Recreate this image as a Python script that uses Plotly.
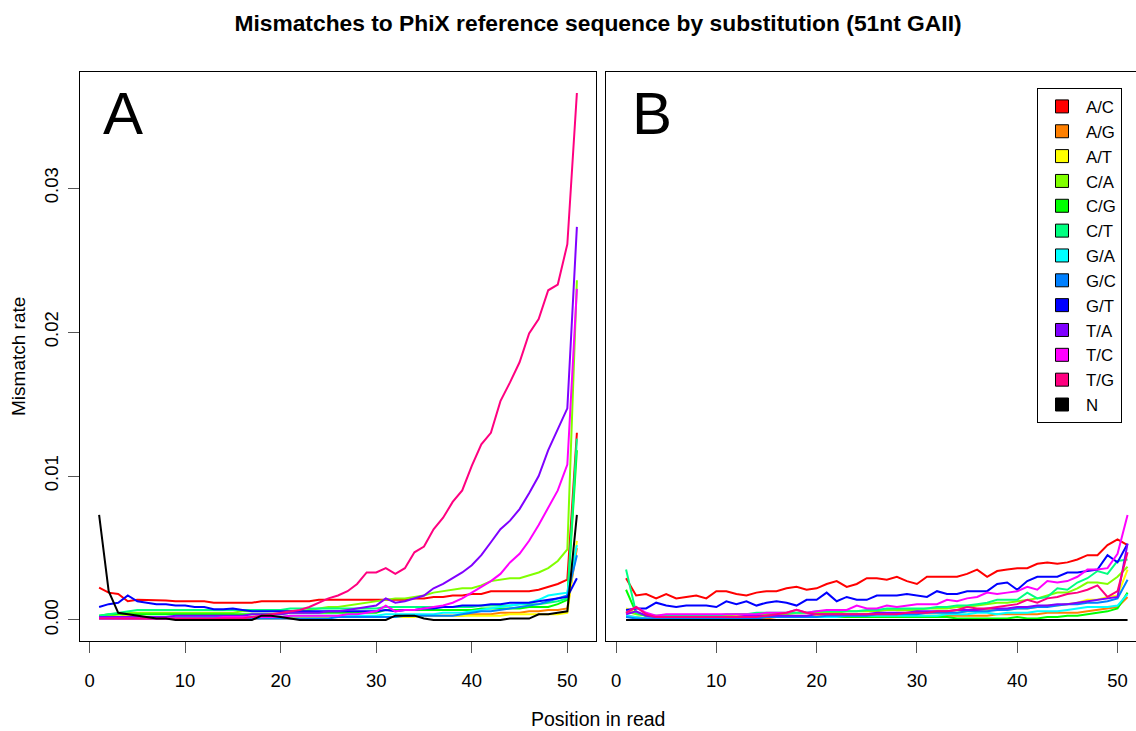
import plotly.graph_objects as go

W, H = 1136, 731

substitutions = ["A/C", "A/G", "A/T", "C/A", "C/G", "C/T", "G/A", "G/C", "G/T", "T/A", "T/C", "T/G", "N"]
colors = ["#FF0000", "#FF8000", "#FFFF00", "#80FF00", "#00FF00", "#00FF80", "#00FFFF",
          "#0080FF", "#0000FF", "#8000FF", "#FF00FF", "#FF0080", "#000000"]
positions = list(range(1, 52))
x_ticks = [0, 10, 20, 30, 40, 50]
y_ticks = [0.0, 0.01, 0.02, 0.03]
y_tick_labels = ["0.00", "0.01", "0.02", "0.03"]

# ---------------- Panel A ----------------
a_AC = [.00225, .0019, .0018, .0013, .0014, .0014, .00135, .00135, .0013, .0013,
        .0013, .0013, .0012, .0012, .0012, .0012, .0012, .0013, .0013, .0013,
        .0013, .0013, .0013, .0014, .0014, .0014, .0014, .0014, .0014, .0014,
        .0014, .0014, .0014, .0015, .0015, .0016, .0016, .0017, .0017, .0018,
        .0018, .0020, .0020, .0020, .0020, .0020, .0021, .0023, .0025, .0028,
        .0130]
a_AG = [.0002, .0002, .0001, .0001, .0001, .0001, .0001, .0001, .0001, .0001,
        .0001, .0001, .0001, .0001, .0001, .0001, .0001, .0001, .0001, .0001,
        .0001, .0001, .0002, .0002, .0002, .0002, .0002, .0002, .0002, .0002,
        .0002, .0002, .0003, .0003, .0003, .0003, .0003, .0003, .0003, .0004,
        .0004, .0004, .0005, .0005, .0005, .0006, .0006, .0007, .0007, .0008,
        .0050]
a_AT = [.0002, .0003, .0004, .0003, .0002, .0002, .0002, .0002, .0002, .0002,
        .0002, .0002, .0002, .0002, .0002, .0002, .0002, .0002, .0002, .0002,
        .0002, .0002, .0002, .0002, .0002, .0002, .0002, .0002, .0002, .0002,
        .0002, .0002, .0002, .0002, .0003, .0003, .0003, .0003, .0003, .0003,
        .0003, .0003, .0003, .0004, .0004, .0004, .0004, .0004, .0004, .0005,
        .0055]
a_CA = [.0002, .0003, .0004, .0005, .0005, .0005, .0005, .0005, .0005, .0005,
        .0005, .0005, .0005, .0005, .0005, .0006, .0006, .0006, .0006, .0006,
        .0006, .0006, .0007, .0008, .0009, .0009, .0010, .0011, .0012, .0013,
        .0014, .0015, .0015, .0016, .0017, .0019, .0020, .0021, .0022, .0022,
        .0024, .0027, .0028, .0029, .0029, .0031, .0033, .0036, .0041, .0049,
        .0236]
a_CG = [.0003, .0004, .0004, .0004, .0004, .0004, .0004, .0004, .0004, .0004,
        .0004, .0004, .0004, .0004, .0004, .0004, .0004, .0004, .0004, .0004,
        .0005, .0005, .0005, .0005, .0005, .0005, .0005, .0005, .0005, .0005,
        .0007, .0007, .0007, .0007, .0007, .0007, .0007, .0007, .0007, .0007,
        .0008, .0008, .0008, .0008, .0008, .0009, .0009, .0009, .0011, .0014,
        .0118]
a_CT = [.0003, .0004, .0005, .0006, .0007, .0007, .0007, .0007, .0007, .0007,
        .0007, .0007, .0007, .0007, .0007, .0007, .0007, .0007, .0007, .0007,
        .0008, .0008, .0008, .0008, .0008, .0008, .0008, .0008, .0008, .0008,
        .0009, .0009, .0009, .0009, .0009, .0009, .0009, .0009, .0009, .0009,
        .0010, .0010, .0010, .0010, .0011, .0011, .0011, .0012, .0013, .0015,
        .0126]
a_GA = [.0001, .0001, .0001, .0002, .0002, .0002, .0002, .0002, .0002, .0002,
        .0002, .0002, .0002, .0002, .0002, .0002, .0002, .0002, .0002, .0002,
        .0003, .0003, .0003, .0003, .0003, .0003, .0003, .0003, .0003, .0003,
        .0004, .0004, .0004, .0004, .0004, .0004, .0005, .0005, .0005, .0006,
        .0007, .0008, .0009, .0010, .0011, .0012, .0014, .0017, .0018, .0019,
        .0052]
a_GC = [.0001, .0001, .0001, .0001, .0001, .0001, .0001, .0001, .0001, .0001,
        .0001, .0001, .0001, .0001, .0001, .0001, .0001, .0001, .0001, .0001,
        .0001, .0001, .0001, .0001, .0001, .0002, .0002, .0002, .0002, .0002,
        .0002, .0002, .0003, .0003, .0003, .0003, .0003, .0003, .0004, .0005,
        .0006, .0006, .0007, .0008, .0009, .0010, .0011, .0013, .0015, .0017,
        .0045]
a_GT = [.0009, .0011, .0012, .0017, .0013, .0012, .0011, .0011, .0010, .0010,
        .0009, .0009, .00075, .00075, .0008, .0007, .0006, .0006, .0006, .0006,
        .0006, .0006, .0006, .0006, .0006, .0006, .0006, .0006, .0006, .0006,
        .0007, .0006, .0007, .0007, .0008, .0008, .0009, .0009, .0010, .0010,
        .0010, .0011, .0011, .0012, .0012, .0012, .0013, .0014, .0015, .0016,
        .0029]
a_TA = [.0002, .0002, .0002, .0002, .0002, .0002, .0002, .0002, .0003, .0003,
        .0003, .0003, .0003, .0003, .0003, .0003, .0004, .0004, .0004, .0004,
        .0005, .0005, .0005, .0005, .0006, .0006, .0007, .0008, .0009, .0010,
        .0015, .0012, .0013, .0015, .0017, .0022, .0025, .0029, .0033, .0038,
        .0045, .0054, .0063, .0069, .0077, .0088, .0100, .0118, .0133, .0147,
        .0273]
a_TC = [.0001, .0001, .0001, .0001, .0001, .0001, .0001, .0001, .0001, .0001,
        .0001, .0001, .0001, .0002, .0002, .0002, .0002, .0002, .0002, .0002,
        .0003, .0003, .0003, .0003, .0003, .0003, .0004, .0004, .0005, .0006,
        .0010, .0006, .0007, .0007, .0008, .0009, .0010, .0012, .0015, .0019,
        .0023, .0027, .0032, .0040, .0046, .0055, .0066, .0078, .0090, .0108,
        .0230]
a_TG = [.0001, .0001, .0001, .0001, .0001, .0001, .0001, .0001, .0001, .0001,
        .0001, .0001, .0001, .0001, .0001, .0001, .0002, .0003, .0004, .0005,
        .0006, .0007, .0009, .0012, .0015, .0017, .0020, .0025, .0033, .0033,
        .0036, .0032, .0036, .0047, .0051, .0063, .0071, .0082, .0090, .0107,
        .0122, .0130, .0152, .0165, .0179, .0199, .0209, .0229, .0233, .0261,
        .0366]
a_N = [.0073, .0020, .0005, .0004, .0003, .0002, .0001, .0001, 0, 0,
       0, 0, 0, 0, 0, 0, 0, .0003, .0003, .0002,
       .0001, 0, 0, 0, 0, 0, 0, 0, 0, 0,
       0, .0003, .0003, .0003, .0001, 0, 0, 0, 0, 0,
       0, 0, 0, .0001, .0001, .0001, .0004, .0004, .0005, .0006,
       .0073]

# ---------------- Panel B ----------------
b_AC = [.0029, .0017, .0018, .0015, .0018, .0015, .0016, .0017, .0015, .0020,
        .0020, .0018, .0017, .0019, .0020, .0020, .0022, .0023, .0021, .0022,
        .0025, .0027, .0023, .0025, .0029, .0029, .0028, .0030, .0027, .0025,
        .0030, .0030, .0030, .0030, .0032, .0035, .0030, .0034, .0035, .0036,
        .0036, .0039, .0040, .0039, .0040, .0042, .0045, .0045, .0052, .0056,
        .0052]
b_AG = [.0003, .0002, .0001, .0001, .0001, .0001, .0001, .0001, .0001, .0001,
        .0001, .0001, .0001, .0001, .0001, .0002, .0002, .0002, .0002, .0002,
        .0002, .0002, .0002, .0002, .0002, .0002, .0002, .0003, .0003, .0003,
        .0003, .0003, .0003, .0003, .0003, .0003, .0003, .0004, .0004, .0004,
        .0004, .0004, .0005, .0005, .0005, .0005, .0006, .0007, .0008, .0009,
        .0016]
b_AT = [.0008, .0005, .0003, .0003, .0003, .0003, .0003, .0003, .0003, .0003,
        .0003, .0003, .0003, .0003, .0003, .0003, .0003, .0003, .0003, .0003,
        .0004, .0004, .0004, .0004, .0004, .0004, .0004, .0005, .0005, .0005,
        .0005, .0005, .0005, .0005, .0006, .0006, .0007, .0007, .0007, .0008,
        .0008, .0009, .0010, .0010, .0011, .0012, .0014, .0014, .0016, .0017,
        .0035]
b_CA = [.0006, .0004, .0003, .0003, .0003, .0003, .0003, .0003, .0003, .0003,
        .0003, .0004, .0004, .0004, .0004, .0004, .0004, .0005, .0005, .0005,
        .0005, .0005, .0006, .0006, .0006, .0006, .0007, .0007, .0007, .0007,
        .0008, .0008, .0008, .0009, .0009, .0010, .0011, .0012, .0012, .0013,
        .0014, .0015, .0017, .0019, .0019, .0022, .0026, .0026, .0025, .0030,
        .0037]
b_CG = [.0021, .0005, .0003, .0002, .0002, .0002, .0002, .0002, .0002, .0002,
        .0002, .0002, .0002, .0002, .0002, .0002, .0002, .0002, .0002, .0002,
        .0002, .0002, .0002, .0002, .0002, .0002, .0002, .0002, .0002, .0002,
        .0002, .0002, .0002, .0001, .0001, .0001, .0001, .0001, .0001, .0002,
        .0001, .0001, .0002, .0002, .0003, .0003, .0004, .0005, .0006, .0008,
        .0019]
b_CT = [.0035, .0005, .0003, .0003, .0003, .0003, .0003, .0003, .0003, .0003,
        .0004, .0004, .0004, .0005, .0005, .0005, .0005, .0005, .0005, .0006,
        .0006, .0006, .0006, .0006, .0007, .0007, .0008, .0008, .0008, .0008,
        .0008, .0009, .0009, .0010, .0010, .0011, .0012, .0014, .0014, .0014,
        .0019, .0015, .0016, .0022, .0021, .0026, .0029, .0034, .0032, .0041,
        .0042]
b_GA = [.0003, .0002, .0001, .0001, .0001, .0001, .0001, .0001, .0001, .0001,
        .0001, .0002, .0002, .0002, .0002, .0002, .0002, .0002, .0002, .0002,
        .0002, .0002, .0003, .0003, .0003, .0003, .0003, .0003, .0003, .0003,
        .0003, .0003, .0004, .0004, .0004, .0005, .0005, .0004, .0005, .0005,
        .0005, .0006, .0006, .0006, .0007, .0008, .0009, .0009, .0009, .0010,
        .0018]
b_GC = [.0002, .0001, .0001, .0001, .0001, .0001, .0001, .0001, .0001, .0001,
        .0001, .0001, .0001, .0001, .0002, .0002, .0002, .0002, .0002, .0002,
        .0003, .0003, .0003, .0003, .0003, .0004, .0004, .0004, .0004, .0004,
        .0005, .0005, .0005, .0005, .0006, .0006, .0006, .0007, .0007, .0008,
        .0008, .0009, .0009, .0010, .0011, .0011, .0012, .0012, .0013, .0015,
        .0028]
b_GT = [.0007, .0008, .0008, .0012, .0010, .0009, .0010, .0010, .0010, .0009,
        .0013, .0011, .0013, .0010, .0012, .0013, .0012, .0010, .0014, .0014,
        .0019, .0013, .0016, .0014, .0014, .0017, .0017, .0017, .0018, .0017,
        .0016, .0020, .0018, .0018, .0020, .0020, .0020, .0025, .0026, .0021,
        .0027, .0030, .0030, .0030, .0033, .0033, .0034, .0035, .0045, .0040,
        .0053]
b_TA = [.0004, .0006, .0003, .0002, .0002, .0002, .0002, .0002, .0002, .0002,
        .0002, .0002, .0003, .0003, .0003, .0003, .0003, .0003, .0003, .0004,
        .0004, .0004, .0004, .0004, .0004, .0005, .0005, .0005, .0005, .0006,
        .0006, .0006, .0006, .0007, .0007, .0007, .0008, .0008, .0008, .0009,
        .0009, .0010, .0010, .0011, .0011, .0012, .0013, .0014, .0015, .0016,
        .0053]
b_TC = [.0005, .0009, .0005, .0003, .0004, .0004, .0004, .0004, .0004, .0004,
        .0004, .0004, .0004, .0004, .0005, .0005, .0005, .0007, .0005, .0006,
        .0007, .0007, .0007, .0010, .0008, .0008, .0010, .0009, .0010, .0011,
        .0011, .0011, .0014, .0013, .0015, .0016, .0019, .0018, .0019, .0020,
        .0023, .0021, .0027, .0026, .0027, .0030, .0035, .0035, .0036, .0046,
        .0073]
b_TG = [.0005, .0009, .0004, .0002, .0002, .0002, .0002, .0002, .0002, .0002,
        .0002, .0002, .0002, .0002, .0003, .0004, .0005, .0007, .0005, .0004,
        .0004, .0004, .0004, .0004, .0004, .0004, .0004, .0004, .0005, .0005,
        .0005, .0006, .0006, .0007, .0009, .0008, .0008, .0009, .0010, .0011,
        .0014, .0012, .0015, .0016, .0018, .0019, .0021, .0024, .0016, .0020,
        .0047]
b_N = [0.0] * 51

panel_a = [a_AC, a_AG, a_AT, a_CA, a_CG, a_CT, a_GA, a_GC, a_GT, a_TA, a_TC, a_TG, a_N]
panel_b = [b_AC, b_AG, b_AT, b_CA, b_CG, b_CT, b_GA, b_GC, b_GT, b_TA, b_TC, b_TG, b_N]

FONT = "Liberation Sans, Arial, Helvetica, sans-serif"

fig = go.Figure()
for name, col, ya, yb in zip(substitutions, colors, panel_a, panel_b):
    fig.add_trace(go.Scatter(x=positions, y=ya, mode="lines", line=dict(color=col, width=2),
                             showlegend=False, xaxis="x", yaxis="y", hoverinfo="skip"))
    fig.add_trace(go.Scatter(x=positions, y=yb, mode="lines", line=dict(color=col, width=2),
                             showlegend=False, xaxis="x2", yaxis="y2", hoverinfo="skip"))
# legend entries (filled boxes)
for name, col in zip(substitutions, colors):
    fig.add_trace(go.Scatter(x=[None], y=[None], mode="markers", name=name,
                             marker=dict(symbol="square", size=13, color=col,
                                         line=dict(color="black", width=1)),
                             xaxis="x2", yaxis="y2", showlegend=True))

y_dom = [(H - 641) / H, (H - 72) / H]
y_rng = [-0.00146, 0.03806]
x_common = dict(tickvals=x_ticks, ticks="outside", ticklen=11, tickcolor="#555555",
                tickwidth=1, showline=True, linecolor="black", linewidth=1, mirror=True,
                showgrid=False, zeroline=False, tickfont=dict(family=FONT, size=18.5, color="black"),
                ticklabelstandoff=12)

fig.update_layout(
    width=W, height=H,
    margin=dict(l=0, r=0, t=0, b=0),
    paper_bgcolor="white", plot_bgcolor="white",
    font=dict(family=FONT, color="black"),
    xaxis=dict(domain=[80 / W, 596 / W], range=[-1, 53], anchor="y", **x_common),
    xaxis2=dict(domain=[606 / W, 1.0], range=[-1, -1 + 530 / 10.03], anchor="y2", **x_common),
    yaxis=dict(domain=y_dom, range=y_rng, anchor="x", tickvals=y_ticks, ticktext=y_tick_labels,
               tickangle=-90, ticks="outside", ticklen=11, tickcolor="#555555",
               showline=True, linecolor="black", linewidth=1, mirror=True,
               showgrid=False, zeroline=False,
               tickfont=dict(family=FONT, size=18.5, color="black"), ticklabelstandoff=3),
    yaxis2=dict(domain=y_dom, range=y_rng, anchor="x2", showticklabels=False, ticks="",
                showline=True, linecolor="black", linewidth=1, mirror=False,
                showgrid=False, zeroline=False),
    title=dict(text="Mismatches to PhiX reference sequence by substitution (51nt GAII)",
               x=598 / W, xanchor="center", y=1 - 23 / H, yanchor="middle",
               font=dict(family=FONT, size=22.8, color="black", weight="bold")),
    legend=dict(x=1037 / W, xanchor="left", y=1 - 88 / H, yanchor="top",
                bordercolor="black", borderwidth=1, bgcolor="white",
                font=dict(family=FONT, size=16.8, color="black"),
                itemwidth=38),
    showlegend=True,
    annotations=[
        dict(text="A", x=101 / W, y=1 - 113 / H, xref="paper", yref="paper",
             xanchor="left", yanchor="middle", showarrow=False,
             font=dict(family=FONT, size=60, color="black")),
        dict(text="B", x=630 / W, y=1 - 113 / H, xref="paper", yref="paper",
             xanchor="left", yanchor="middle", showarrow=False,
             font=dict(family=FONT, size=60, color="black")),
        dict(text="Mismatch rate", x=18 / W, y=1 - 357 / H, xref="paper", yref="paper",
             xanchor="center", yanchor="middle", textangle=-90, showarrow=False,
             font=dict(family=FONT, size=19, color="black")),
        dict(text="Position in read", x=598 / W, y=1 - 719 / H, xref="paper", yref="paper",
             xanchor="center", yanchor="middle", showarrow=False,
             font=dict(family=FONT, size=19.5, color="black")),
    ],
)

fig.write_html("out.html")
